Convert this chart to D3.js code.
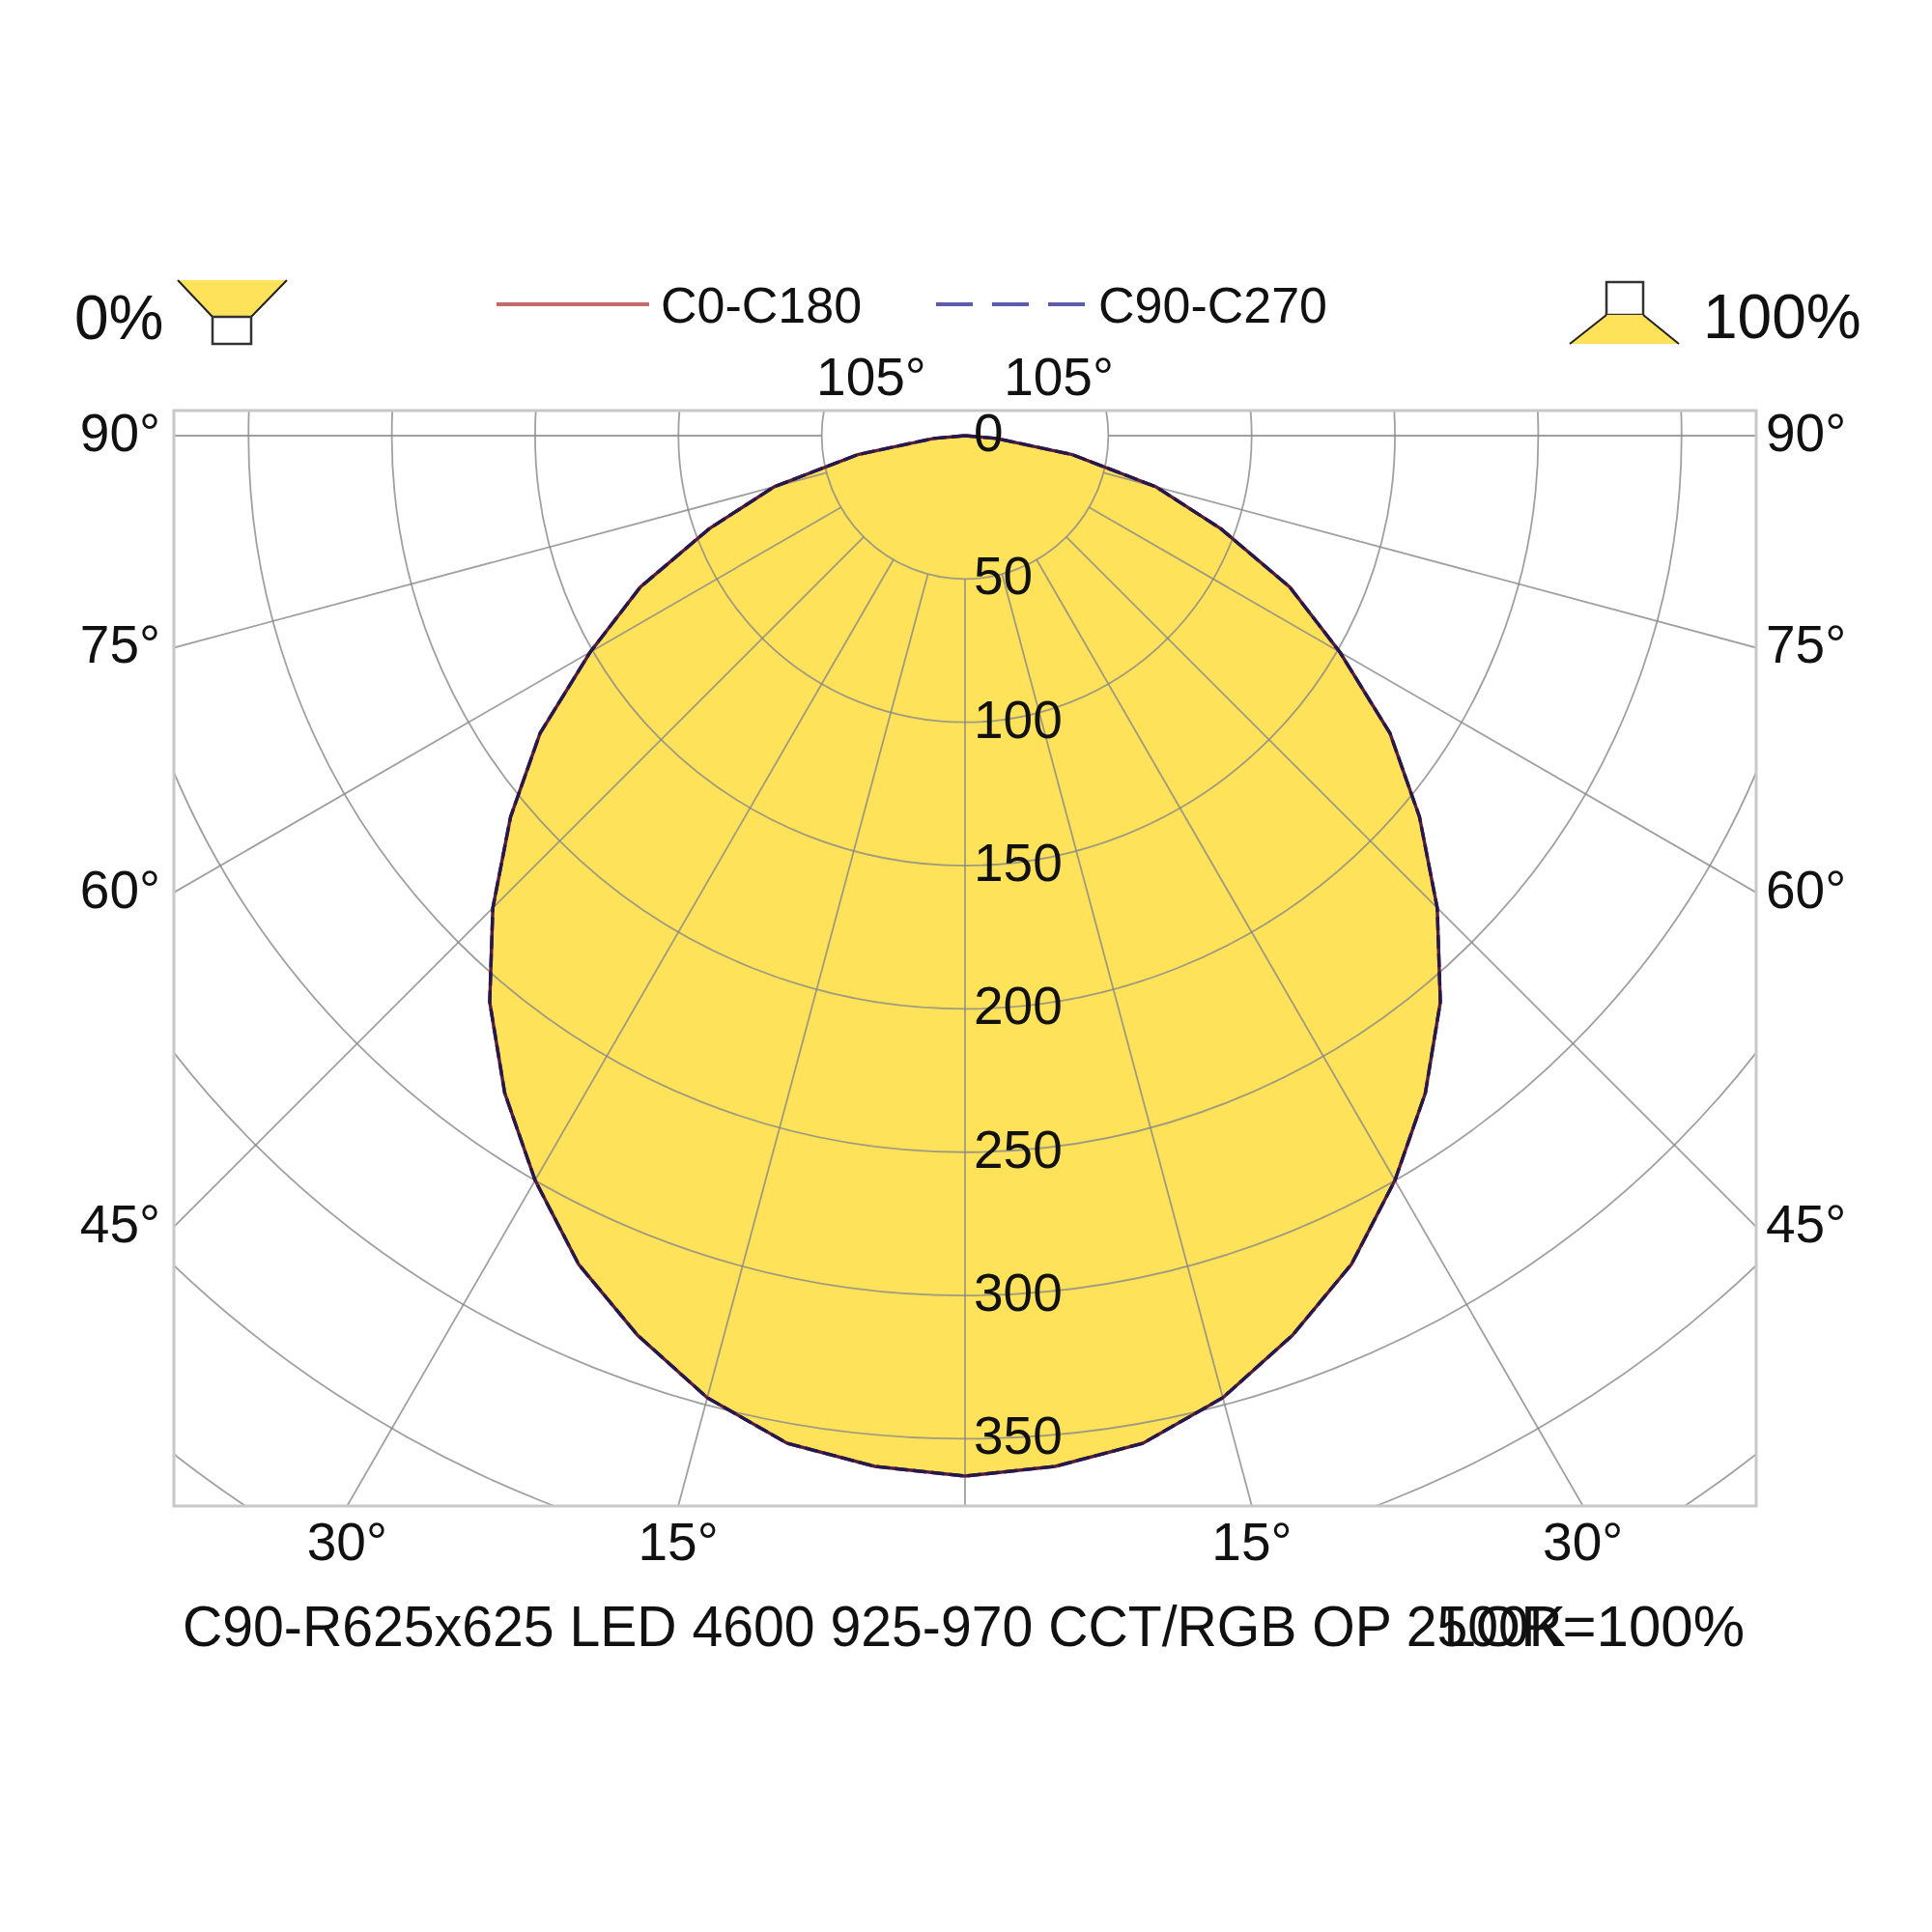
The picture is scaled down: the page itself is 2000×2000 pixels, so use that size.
<!DOCTYPE html>
<html>
<head>
<meta charset="utf-8">
<script src="https://cdn.jsdelivr.net/npm/d3@7"></script>
<style>
  body { margin: 0; background: #fff; }
  svg { display: block; font-family: "Liberation Sans", Arial, sans-serif; }
</style>
</head>
<body>
<div id="chart"></div>
<script>
// gamma angles (deg from nadir) and luminous intensity (cd/klm)
const gammaAngles = [0, 5, 10, 15, 20, 25, 30, 35, 40, 45, 50, 55, 60, 65, 70, 75, 80, 85, 90];
const intensityC0C180 = [363, 361, 357, 347.5, 334, 319, 300, 280, 258, 233, 207, 181, 151, 125, 95, 69, 38, 11, 0];
const intensityC90C270 = [363, 361, 357, 347.5, 334, 319, 300, 280, 258, 233, 207, 181, 151, 125, 95, 69, 38, 11, 0];

// grid
const circleTicks = [50, 100, 150, 200, 250, 300, 350, 400, 450];
const valueLabels = [0, 50, 100, 150, 200, 250, 300, 350];
const spokeAngles = [-105, -90, -75, -60, -45, -30, -15, 0, 15, 30, 45, 60, 75, 90, 105];
const sideLabelAngles = [90, 75, 60, 45];
const bottomLabelAngles = [30, 15];
const topLabelAngle = 105;

const title = "C90-R625x625 LED 4600 925-970 CCT/RGB OP 2500K";
const lorText = "LOR=100%";
const seriesNames = ["C0-C180", "C90-C270"];

const width = 2000, height = 2000;
const frame = { x0: 180, y0: 425, x1: 1818, y1: 1559 };
const cx = 999, cy = 451;
const yellow = "#fde25a";

const svg = d3.select("#chart").append("svg")
    .attr("width", width)
    .attr("height", height);

svg.append("defs").append("clipPath").attr("id", "frameClip")
  .append("rect")
    .attr("x", frame.x0).attr("y", frame.y0)
    .attr("width", frame.x1 - frame.x0).attr("height", frame.y1 - frame.y0);

// radius scale: cd/klm -> pixels
const r = d3.scaleLinear().domain([0, 50]).range([0, 148.35]);

const clipped = svg.append("g").attr("clip-path", "url(#frameClip)")
  .append("g").attr("transform", "translate(" + cx + "," + cy + ")");

// polar point, angle from nadir (positive to the right)
function pt(deg, rad) {
  const a = deg * Math.PI / 180;
  return [rad * Math.sin(a), rad * Math.cos(a)];
}

// closed curve: right half 90 -> 0, left half 0 -> 90 (lineRadial angle 0 = up)
function curvePoints(vals) {
  const right = gammaAngles.map((g, i) => ({ a: Math.PI - g * Math.PI / 180, v: vals[i] })).reverse();
  const left = gammaAngles.map((g, i) => ({ a: Math.PI + g * Math.PI / 180, v: vals[i] }));
  return right.concat(left.slice(1));
}
const radial = d3.lineRadial()
    .angle(d => d.a)
    .radius(d => r(d.v))
    .curve(d3.curveLinearClosed);

// fill
clipped.append("path")
    .attr("d", radial(curvePoints(intensityC0C180)))
    .attr("fill", yellow);

// grid circles
clipped.selectAll("circle.grid")
  .data(circleTicks)
  .enter().append("circle")
    .attr("class", "grid")
    .attr("r", d => r(d))
    .attr("fill", "none")
    .attr("stroke", "#888")
    .attr("stroke-opacity", 0.8)
    .attr("stroke-width", 1.8);

// spokes from r=50 outwards
clipped.selectAll("line.spoke")
  .data(spokeAngles)
  .enter().append("line")
    .attr("class", "spoke")
    .attr("x1", d => pt(d, r(50))[0])
    .attr("y1", d => pt(d, r(50))[1])
    .attr("x2", d => pt(d, r(800))[0])
    .attr("y2", d => pt(d, r(800))[1])
    .attr("stroke", "#888")
    .attr("stroke-opacity", 0.8)
    .attr("stroke-width", 1.8);

// curves
clipped.append("path")
    .attr("d", radial(curvePoints(intensityC0C180)))
    .attr("fill", "none")
    .attr("stroke", "#5a1c36")
    .attr("stroke-width", 3.4);
clipped.append("path")
    .attr("d", radial(curvePoints(intensityC90C270)))
    .attr("fill", "none")
    .attr("stroke", "#24184e")
    .attr("stroke-width", 3.4)
    .attr("stroke-dasharray", "14,5");

// frame
svg.append("rect")
    .attr("x", frame.x0).attr("y", frame.y0)
    .attr("width", frame.x1 - frame.x0).attr("height", frame.y1 - frame.y0)
    .attr("fill", "none")
    .attr("stroke", "#c8c8c8")
    .attr("stroke-width", 3);

const fontSize = 55;

// intensity labels along the nadir axis (drawn above the curve)
const plot = svg.append("g").attr("transform", "translate(" + cx + "," + cy + ")");
plot.selectAll("text.val")
  .data(valueLabels)
  .enter().append("text")
    .attr("class", "val")
    .attr("x", 9)
    .attr("y", d => r(d) - 4)
    .attr("dy", "0.36em")
    .attr("font-size", fontSize)
    .attr("fill", "#111")
    .text(d => d);

// side labels where the rays meet the frame sides
const halfW = frame.x1 - cx;
sideLabelAngles.forEach(function(g) {
  const y = cy + (cx - frame.x0) / Math.tan(g * Math.PI / 180);
  svg.append("text")
      .attr("x", frame.x0 - 14).attr("y", y - 4).attr("dy", "0.36em")
      .attr("text-anchor", "end").attr("font-size", fontSize).attr("fill", "#111")
      .text(g + "°");
  svg.append("text")
      .attr("x", frame.x1 + 10).attr("y", cy + halfW / Math.tan(g * Math.PI / 180) - 4).attr("dy", "0.36em")
      .attr("text-anchor", "start").attr("font-size", fontSize).attr("fill", "#111")
      .text(g + "°");
});

// bottom labels where the rays meet the bottom edge
bottomLabelAngles.forEach(function(g) {
  const dx = (frame.y1 - cy) * Math.tan(g * Math.PI / 180);
  [-1, 1].forEach(function(s) {
    svg.append("text")
        .attr("x", cx + s * dx).attr("y", frame.y1 + 56)
        .attr("text-anchor", "middle").attr("font-size", fontSize).attr("fill", "#111")
        .text(g + "°");
  });
});

// top labels where the 105° rays meet the top edge
const topDx = (cy - frame.y0) / Math.tan((topLabelAngle - 90) * Math.PI / 180);
[-1, 1].forEach(function(s) {
  svg.append("text")
      .attr("x", cx + s * topDx).attr("y", frame.y0 - 16)
      .attr("text-anchor", "middle").attr("font-size", fontSize).attr("fill", "#111")
      .text(topLabelAngle + "°");
});

// legend
const legend = svg.append("g");
legend.append("line")
    .attr("x1", 514).attr("x2", 672).attr("y1", 315).attr("y2", 315)
    .attr("stroke", "#c46a6a").attr("stroke-width", 4);
legend.append("text")
    .attr("x", 684).attr("y", 334).attr("font-size", 52).attr("fill", "#111")
    .text(seriesNames[0]);
legend.append("line")
    .attr("x1", 969).attr("x2", 1131).attr("y1", 315).attr("y2", 315)
    .attr("stroke", "#5c5cae").attr("stroke-width", 4)
    .attr("stroke-dasharray", "38,20");
legend.append("text")
    .attr("x", 1137).attr("y", 334).attr("font-size", 52).attr("fill", "#111")
    .text(seriesNames[1]);

// upward / downward light icons
const icons = svg.append("g");
icons.append("text")
    .attr("x", 77).attr("y", 351).attr("font-size", 64).attr("fill", "#111")
    .text("0%");
icons.append("path")
    .attr("d", "M184,290 L297,290 L260,328 L220,328 Z")
    .attr("fill", yellow);
icons.append("path")
    .attr("d", "M184,290 L220,328 M297,290 L260,328")
    .attr("stroke", "#222").attr("stroke-width", 2).attr("fill", "none");
icons.append("rect")
    .attr("x", 220).attr("y", 328).attr("width", 40).attr("height", 28)
    .attr("fill", "#fff").attr("stroke", "#333").attr("stroke-width", 2.5);

icons.append("rect")
    .attr("x", 1663).attr("y", 292).attr("width", 38).attr("height", 34)
    .attr("fill", "#fff").attr("stroke", "#333").attr("stroke-width", 2.5);
icons.append("path")
    .attr("d", "M1663,326 L1701,326 L1738,356 L1625,356 Z")
    .attr("fill", yellow);
icons.append("path")
    .attr("d", "M1663,326 L1625,356 M1701,326 L1738,356")
    .attr("stroke", "#222").attr("stroke-width", 2).attr("fill", "none");
icons.append("text")
    .attr("x", 1763).attr("y", 350).attr("font-size", 64).attr("fill", "#111")
    .text("100%");

// footer (the two texts overlap, as in the original)
svg.append("text")
    .attr("x", 189).attr("y", 1704).attr("font-size", 60).attr("fill", "#111")
    .attr("textLength", 1432).attr("lengthAdjust", "spacingAndGlyphs")
    .text(title);
svg.append("text")
    .attr("x", 1806).attr("y", 1704).attr("text-anchor", "end")
    .attr("font-size", 60).attr("fill", "#111")
    .text(lorText);
</script>
</body>
</html>
